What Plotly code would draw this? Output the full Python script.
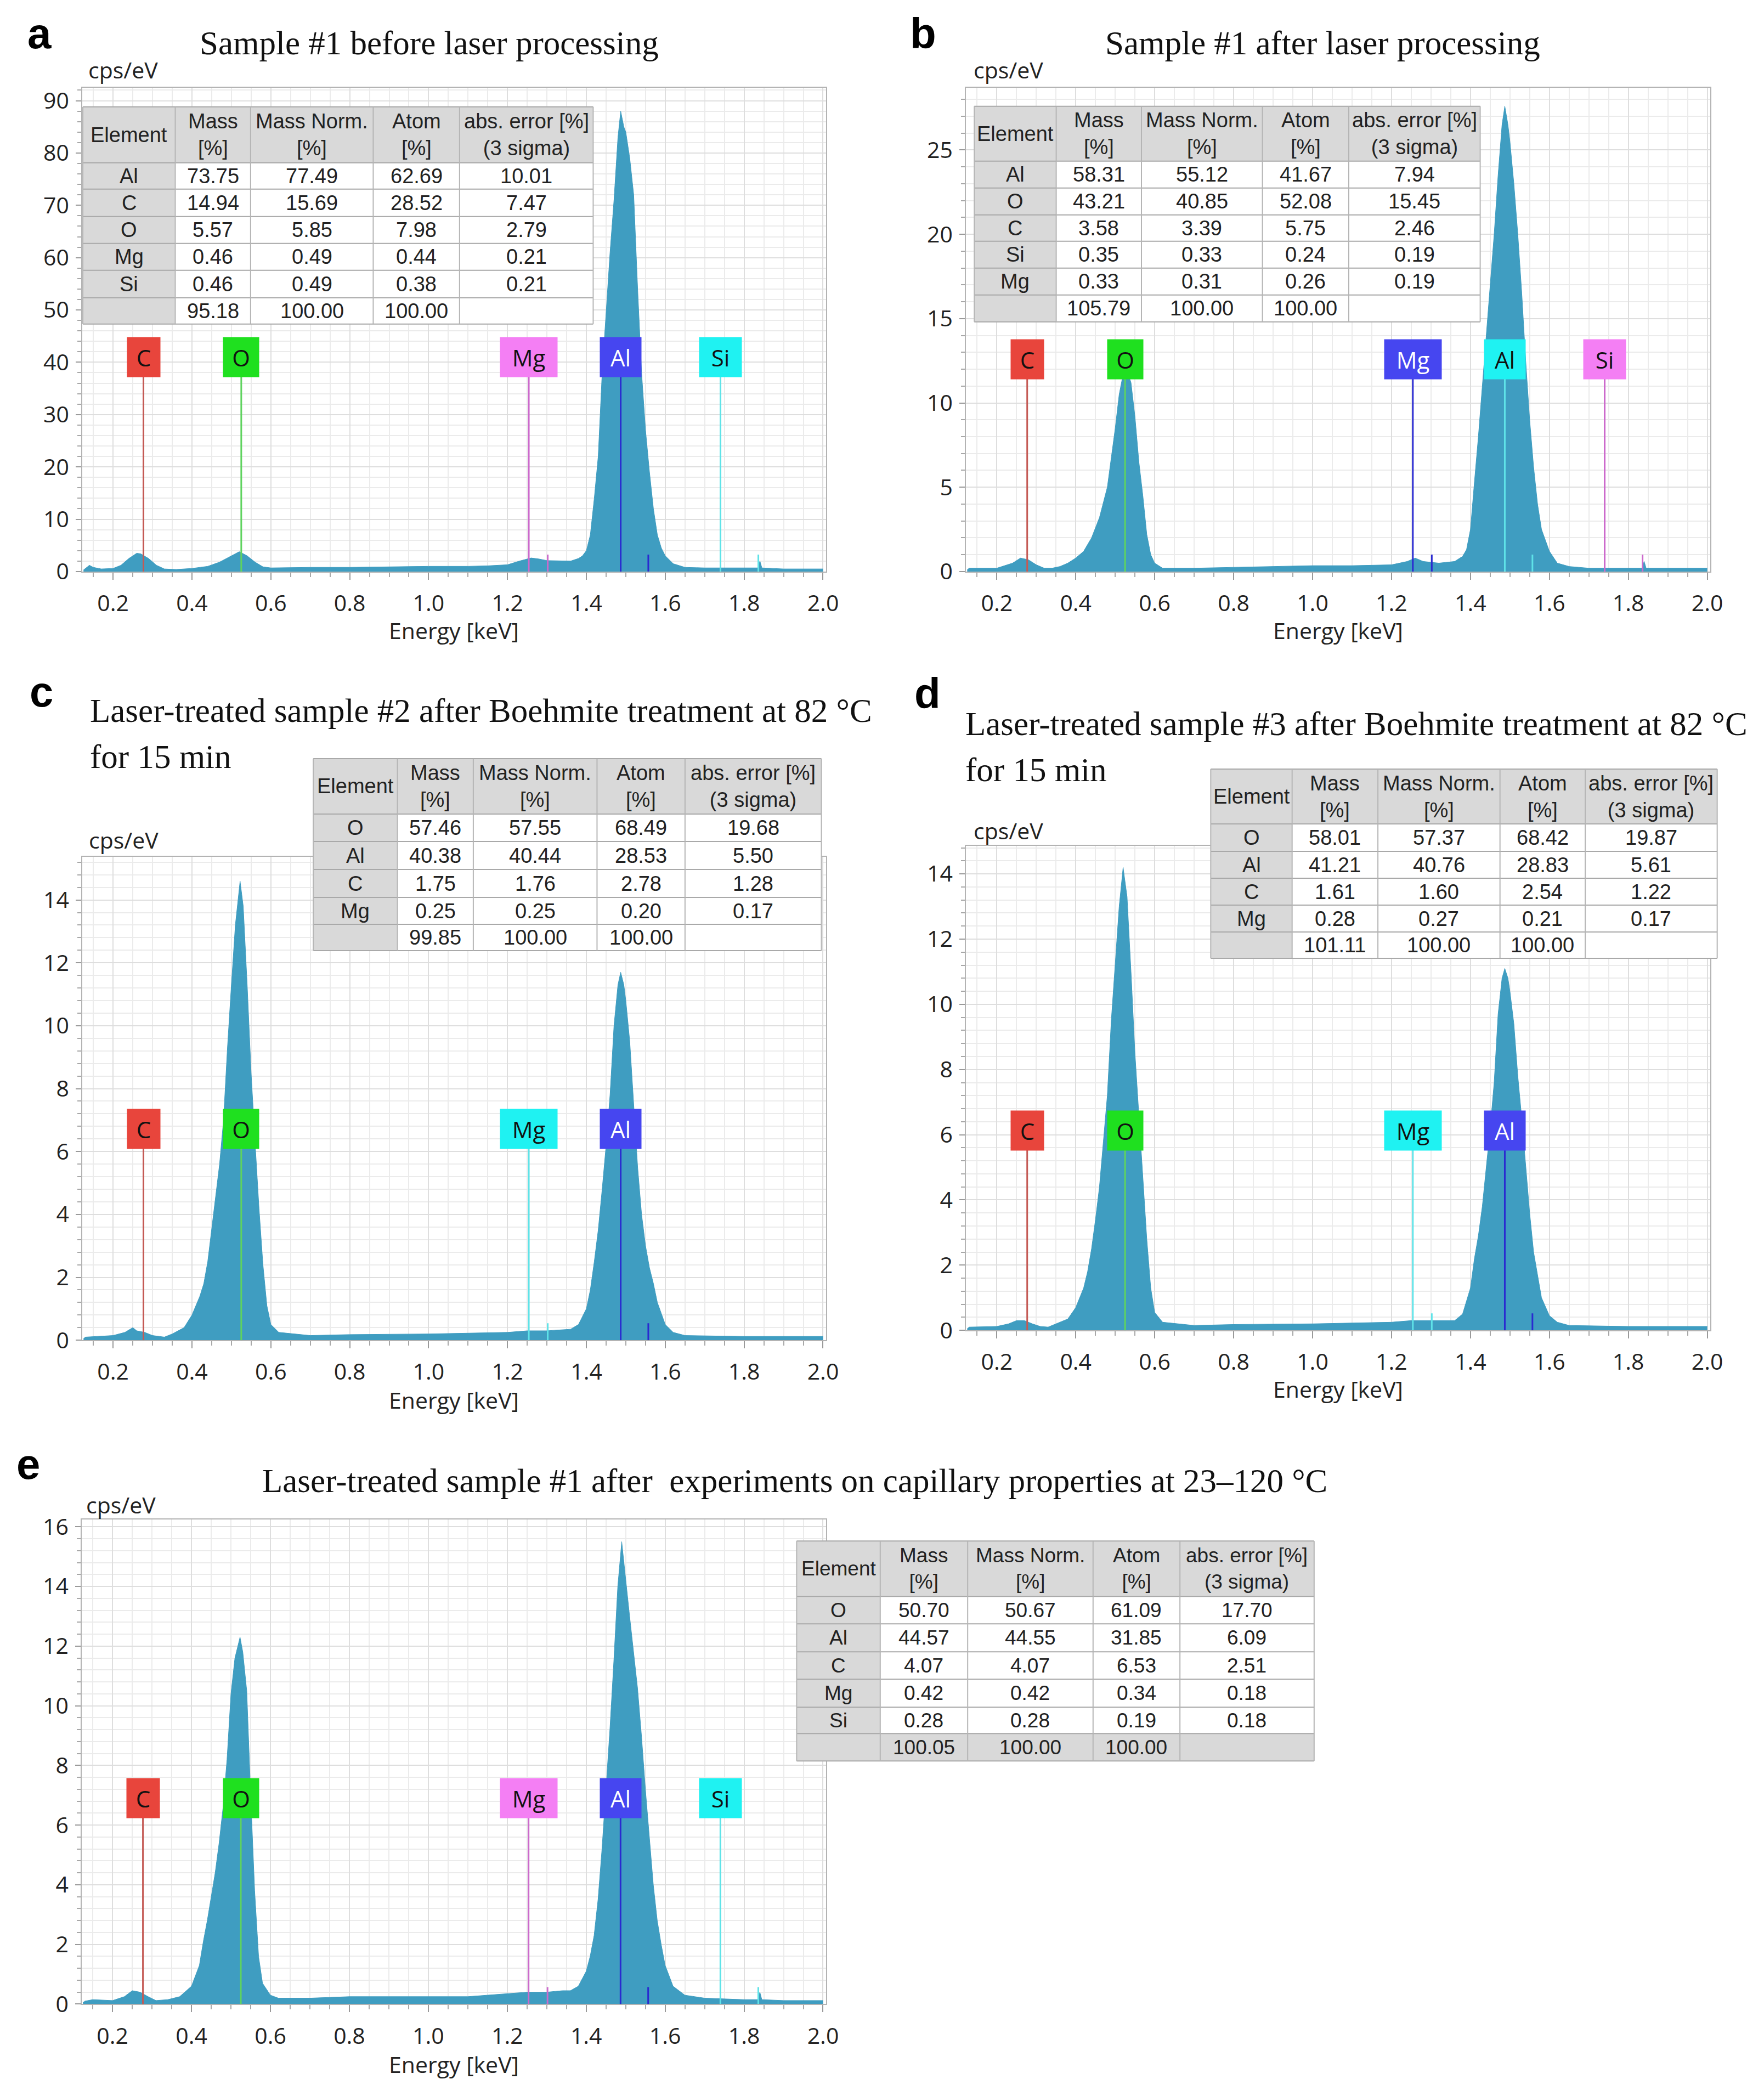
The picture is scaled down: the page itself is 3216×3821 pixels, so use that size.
import plotly.graph_objects as go

W, H = 3216, 3821

# ---------------- spectra (energy keV, counts cps/eV) ----------------
a_keV = [0.125, 0.13, 0.14, 0.15, 0.17, 0.20, 0.22, 0.24, 0.26, 0.27, 0.29, 0.31, 0.33, 0.36, 0.40,
         0.44, 0.47, 0.50, 0.52, 0.54, 0.56, 0.58, 0.60, 0.70, 0.80, 0.90, 1.00, 1.10, 1.15, 1.20,
         1.23, 1.26, 1.28, 1.30, 1.34, 1.36, 1.38, 1.39, 1.40, 1.41, 1.42, 1.43, 1.44, 1.45, 1.46,
         1.47, 1.48, 1.487, 1.495, 1.50, 1.51, 1.52, 1.53, 1.54, 1.55, 1.56, 1.57, 1.58, 1.59, 1.60,
         1.62, 1.65, 1.70, 1.80, 1.835, 1.84, 1.845, 1.90, 2.00]
a_cps = [0.3, 0.6, 1.2, 0.8, 0.5, 0.6, 1.2, 2.5, 3.5, 3.4, 2.5, 1.2, 0.5, 0.4, 0.6,
         1.0, 1.8, 3.0, 3.8, 3.0, 1.8, 0.9, 0.7, 0.8, 0.8, 0.9, 1.0, 1.0, 1.1, 1.3,
         2.0, 2.6, 2.4, 2.1, 2.0, 2.0, 2.5, 3, 4, 7, 14, 22, 38, 50, 61,
         71, 83, 88, 85, 84, 79, 72, 54, 38, 27, 19, 12, 7, 4.5, 3,
         1.5, 0.8, 0.7, 0.7, 0.7, 2.0, 0.7, 0.5, 0.5]

b_keV = [0.125, 0.13, 0.16, 0.20, 0.24, 0.26, 0.28, 0.30, 0.32, 0.34, 0.36, 0.38, 0.40, 0.42, 0.44,
         0.46, 0.48, 0.50, 0.51, 0.525, 0.54, 0.55, 0.56, 0.57, 0.58, 0.59, 0.60, 0.62, 0.70, 0.80,
         0.90, 1.00, 1.10, 1.20, 1.24, 1.26, 1.28, 1.32, 1.36, 1.38, 1.39, 1.40, 1.41, 1.42, 1.43,
         1.44, 1.45, 1.46, 1.47, 1.48, 1.487, 1.495, 1.50, 1.51, 1.52, 1.53, 1.54, 1.55, 1.56, 1.57,
         1.58, 1.60, 1.62, 1.65, 1.70, 1.80, 1.835, 1.84, 1.845, 1.90, 2.00]
b_cps = [0.1, 0.2, 0.2, 0.2, 0.5, 0.8, 0.7, 0.4, 0.2, 0.2, 0.3, 0.5, 0.8, 1.2, 2.0,
         3.2, 5.0, 8.5, 10.5, 12.3, 11.2, 9.2, 6.5, 4.5, 2.2, 1.0, 0.5, 0.2, 0.2, 0.25,
         0.3, 0.35, 0.35, 0.4, 0.6, 0.8, 0.6, 0.5, 0.6, 0.9, 1.3, 2.5, 5.3, 8, 11,
         14, 17, 20, 23.5, 26.5, 27.6, 26.5, 25.5, 23, 20, 16.5, 12.5, 9, 6.2, 4,
         2.5, 1.2, 0.5, 0.3, 0.2, 0.2, 0.2, 0.6, 0.2, 0.2, 0.2]

c_keV = [0.125, 0.13, 0.20, 0.23, 0.25, 0.26, 0.28, 0.30, 0.33, 0.35, 0.38, 0.40, 0.42, 0.43, 0.44,
         0.45, 0.46, 0.47, 0.48, 0.49, 0.50, 0.51, 0.522, 0.53, 0.54, 0.55, 0.56, 0.57, 0.58, 0.59,
         0.60, 0.62, 0.70, 0.80, 1.00, 1.20, 1.25, 1.30, 1.36, 1.38, 1.40, 1.41, 1.42, 1.43, 1.44,
         1.45, 1.46, 1.47, 1.48, 1.487, 1.495, 1.50, 1.51, 1.52, 1.53, 1.54, 1.55, 1.56, 1.57, 1.58,
         1.60, 1.62, 1.65, 1.80, 2.00]
c_cps = [0.05, 0.1, 0.15, 0.25, 0.4, 0.3, 0.25, 0.15, 0.1, 0.2, 0.4, 0.8, 1.4, 1.8, 2.5,
         3.5, 4.5, 5.6, 7.0, 9.3, 11.3, 13.2, 14.6, 13.8, 11.3, 8.5, 6.3, 4.2, 2.4, 1.1,
         0.5, 0.25, 0.15, 0.18, 0.2, 0.25, 0.3, 0.3, 0.35, 0.5, 1.0, 1.6, 2.5, 3.5, 4.8,
         6.2, 7.8, 10.0, 11.3, 11.7, 11.3, 10.8, 9.5, 7.5, 5.5, 4.0, 3.0, 2.3, 1.8, 1.2,
         0.5, 0.25, 0.15, 0.12, 0.12]

d_keV = [0.125, 0.13, 0.20, 0.23, 0.25, 0.27, 0.29, 0.31, 0.33, 0.35, 0.38, 0.40, 0.42, 0.43, 0.44,
         0.45, 0.46, 0.47, 0.48, 0.49, 0.50, 0.51, 0.52, 0.53, 0.54, 0.55, 0.56, 0.57, 0.58, 0.59,
         0.60, 0.62, 0.70, 0.80, 1.00, 1.20, 1.25, 1.30, 1.36, 1.38, 1.40, 1.41, 1.42, 1.43, 1.44,
         1.45, 1.46, 1.47, 1.48, 1.487, 1.495, 1.50, 1.51, 1.52, 1.53, 1.54, 1.55, 1.56, 1.57, 1.58,
         1.60, 1.62, 1.65, 1.80, 2.00]
d_cps = [0.05, 0.1, 0.12, 0.2, 0.3, 0.3, 0.2, 0.12, 0.1, 0.2, 0.35, 0.7, 1.3, 1.8, 2.5,
         3.4, 4.4, 5.8, 7.2, 9.5, 11.3, 13.0, 14.2, 13.3, 11.0, 8.5, 6.6, 4.6, 2.8, 1.3,
         0.55, 0.25, 0.15, 0.18, 0.2, 0.25, 0.3, 0.3, 0.3, 0.5, 1.3, 2.2, 2.9, 3.8, 5.0,
         6.2, 7.6, 9.7, 10.8, 11.1, 10.8, 10.4, 9.4, 7.8, 6.5, 5.0, 3.6, 2.4, 1.7, 1.0,
         0.45, 0.25, 0.15, 0.12, 0.12]

e_keV = [0.125, 0.13, 0.15, 0.20, 0.23, 0.25, 0.27, 0.29, 0.31, 0.34, 0.37, 0.40, 0.42, 0.43, 0.44,
         0.45, 0.46, 0.47, 0.48, 0.49, 0.50, 0.51, 0.523, 0.53, 0.54, 0.55, 0.56, 0.57, 0.58, 0.60,
         0.62, 0.70, 0.80, 0.90, 1.00, 1.10, 1.20, 1.25, 1.30, 1.34, 1.36, 1.38, 1.40, 1.41, 1.42,
         1.43, 1.44, 1.45, 1.46, 1.47, 1.48, 1.49, 1.50, 1.51, 1.52, 1.53, 1.54, 1.55, 1.56, 1.57,
         1.58, 1.59, 1.60, 1.62, 1.65, 1.70, 1.80, 1.835, 1.84, 1.845, 1.90, 2.00]
e_cps = [0.05, 0.1, 0.15, 0.12, 0.25, 0.45, 0.4, 0.25, 0.12, 0.15, 0.25, 0.6, 1.3, 2.1, 2.8,
         3.6, 4.4, 5.4, 6.6, 8.2, 10.4, 11.6, 12.3, 11.8, 10.5, 7.0, 3.8, 1.6, 0.7, 0.3,
         0.2, 0.2, 0.25, 0.25, 0.25, 0.25, 0.35, 0.4, 0.4, 0.45, 0.45, 0.6, 1.1, 1.6, 2.3,
         3.5, 5.2, 7.2, 9.2, 11.5, 14.0, 15.5, 14.2, 13.0, 11.8, 10.6, 9.0, 7.2, 5.6, 4.0,
         2.8, 2.0, 1.3, 0.6, 0.3, 0.2, 0.15, 0.15, 0.4, 0.15, 0.12, 0.12]

# element line energies (keV): K-alpha lines with labels, K-beta short marks
line_keV = {'C': 0.277, 'O': 0.525, 'Mg': 1.254, 'Al': 1.487, 'Si': 1.740}
kb_keV = {'Mg': 1.302, 'Al': 1.557, 'Si': 1.836}

# ---------------- quantification tables ----------------
header = ['Element', 'Mass<br>[%]', 'Mass Norm.<br>[%]', 'Atom<br>[%]', 'abs. error [%]<br>(3 sigma)']

a_elem = ['Al', 'C', 'O', 'Mg', 'Si']
a_mass = ['73.75', '14.94', '5.57', '0.46', '0.46']
a_norm = ['77.49', '15.69', '5.85', '0.49', '0.49']
a_atom = ['62.69', '28.52', '7.98', '0.44', '0.38']
a_err = ['10.01', '7.47', '2.79', '0.21', '0.21']
a_sum = ['', '95.18', '100.00', '100.00', '']

b_elem = ['Al', 'O', 'C', 'Si', 'Mg']
b_mass = ['58.31', '43.21', '3.58', '0.35', '0.33']
b_norm = ['55.12', '40.85', '3.39', '0.33', '0.31']
b_atom = ['41.67', '52.08', '5.75', '0.24', '0.26']
b_err = ['7.94', '15.45', '2.46', '0.19', '0.19']
b_sum = ['', '105.79', '100.00', '100.00', '']

c_elem = ['O', 'Al', 'C', 'Mg']
c_mass = ['57.46', '40.38', '1.75', '0.25']
c_norm = ['57.55', '40.44', '1.76', '0.25']
c_atom = ['68.49', '28.53', '2.78', '0.20']
c_err = ['19.68', '5.50', '1.28', '0.17']
c_sum = ['', '99.85', '100.00', '100.00', '']

d_elem = ['O', 'Al', 'C', 'Mg']
d_mass = ['58.01', '41.21', '1.61', '0.28']
d_norm = ['57.37', '40.76', '1.60', '0.27']
d_atom = ['68.42', '28.83', '2.54', '0.21']
d_err = ['19.87', '5.61', '1.22', '0.17']
d_sum = ['', '101.11', '100.00', '100.00', '']

e_elem = ['O', 'Al', 'C', 'Mg', 'Si']
e_mass = ['50.70', '44.57', '4.07', '0.42', '0.28']
e_norm = ['50.67', '44.55', '4.07', '0.42', '0.28']
e_atom = ['61.09', '31.85', '6.53', '0.34', '0.19']
e_err = ['17.70', '6.09', '2.51', '0.18', '0.18']
e_sum = ['', '100.05', '100.00', '100.00', '']

# ---------------- styling ----------------
FILL = '#3f9dc1'
RED, GREEN, MAG, BLUE, CYAN = '#e8453c', '#1fe01f', '#f47ff4', '#4646f0', '#1ff2f2'
LINE_COL = {RED: '#c45a55', GREEN: '#5fd35f', MAG: '#cc6acc', BLUE: '#2a2ad0', CYAN: '#5fe3e8'}
BOX_W = {'C': 52, 'O': 57, 'Mg': 96, 'Al': 67, 'Si': 69}
GRID = '#dedede'
GRID_MINOR = '#ebebeb'
AXCOL = '#b3b3b3'
SANS = 'Open Sans, Noto Sans, sans-serif'
TICKFONT = dict(family=SANS, size=41, color='#222222')
SERIF = 'Liberation Serif, Times New Roman, serif'
TABLE_FONT = 'Liberation Sans, Arial, sans-serif'

# small correction so that positions measured on the reference land where intended
SX, OX = 0.99, 9.3
SY, OY = 0.9888, 25.3


def fx(px):
    return ((px - OX) / SX) / W


def fy(py):
    return 1 - ((py - OY) / SY) / H


panels = [
    dict(letter='a', keV=a_keV, cps=a_cps, xs=(151, 1503), ys=(161, 1043), ymax=92.5, dtick=10, minor=2,
         marks=[('C', RED), ('O', GREEN), ('Mg', MAG), ('Al', BLUE), ('Si', CYAN)], mark_y=41,
         table=[a_elem, a_mass, a_norm, a_atom, a_err], total=a_sum, total_gray=False, tfont=38,
         cols=[152, 320, 457, 680, 837, 1080], rows=[196, 298, 346, 396, 445, 494, 544, 592],
         letter_pos=(73, 62), title=['Sample #1 before laser processing'], title_pos=(782, 80), title_left=False,
         cps_pos=(160, 128), energy_y=1150),
    dict(letter='b', keV=b_keV, cps=b_cps, xs=(1758, 3111), ys=(161, 1043), ymax=28.7, dtick=5, minor=1,
         marks=[('C', RED), ('O', GREEN), ('Mg', BLUE), ('Al', CYAN), ('Si', MAG)], mark_y=12.6,
         table=[b_elem, b_mass, b_norm, b_atom, b_err], total=b_sum, total_gray=False, tfont=38,
         cols=[1773, 1922, 2077, 2297, 2454, 2693], rows=[195, 295, 344, 393, 441, 490, 539, 588],
         letter_pos=(1680, 62), title=['Sample #1 after laser processing'], title_pos=(2407, 80), title_left=False,
         cps_pos=(1770, 128), energy_y=1150),
    dict(letter='c', keV=c_keV, cps=c_cps, xs=(151, 1503), ys=(1563, 2444), ymax=15.37, dtick=2, minor=0.4,
         marks=[('C', RED), ('O', GREEN), ('Mg', CYAN), ('Al', BLUE)], mark_y=6.72,
         table=[c_elem, c_mass, c_norm, c_atom, c_err], total=c_sum, total_gray=False, tfont=38,
         cols=[571, 724, 862, 1087, 1247, 1495], rows=[1384, 1485, 1535, 1586, 1637, 1686, 1734],
         letter_pos=(77, 1262), title=['Laser-treated sample #2 after Boehmite treatment at 82 °C', 'for 15 min'],
         title_pos=(163, 1297), title_left=True, cps_pos=(161, 1532), energy_y=2553),
    dict(letter='d', keV=d_keV, cps=d_cps, xs=(1758, 3111), ys=(1543, 2426), ymax=14.86, dtick=2, minor=0.4,
         marks=[('C', RED), ('O', GREEN), ('Mg', CYAN), ('Al', BLUE)], mark_y=6.12,
         table=[d_elem, d_mass, d_norm, d_atom, d_err], total=d_sum, total_gray=False, tfont=38,
         cols=[2203, 2351, 2507, 2729, 2884, 3124], rows=[1403, 1503, 1553, 1602, 1651, 1700, 1748],
         letter_pos=(1688, 1265), title=['Laser-treated sample #3 after Boehmite treatment at 82 °C', 'for 15 min'],
         title_pos=(1755, 1321), title_left=True, cps_pos=(1770, 1515), energy_y=2533),
    dict(letter='e', keV=e_keV, cps=e_cps, xs=(150, 1503), ys=(2771, 3654), ymax=16.24, dtick=2, minor=0.4,
         marks=[('C', RED), ('O', GREEN), ('Mg', MAG), ('Al', BLUE), ('Si', CYAN)], mark_y=6.9,
         table=[e_elem, e_mass, e_norm, e_atom, e_err], total=e_sum, total_gray=True, tfont=37,
         cols=[1450, 1602, 1761, 1989, 2147, 2391], rows=[2810, 2911, 2961, 3012, 3062, 3113, 3161, 3211],
         letter_pos=(53, 2670),
         title=['Laser-treated sample #1 after  experiments on capillary properties at 23\u2013120 °C'],
         title_pos=(1447, 2700), title_left=False, cps_pos=(156, 2744), energy_y=3764),
]

fig = go.Figure()
shapes = []
annotations = []
layout_axes = {}

for i, p in enumerate(panels, start=1):
    sfx = '' if i == 1 else str(i)
    xa, ya = 'x' + sfx, 'y' + sfx

    fig.add_trace(go.Scatter(x=p['keV'], y=p['cps'], mode='lines', fill='tozeroy',
                             line=dict(color=FILL, width=1), fillcolor=FILL,
                             xaxis=xa, yaxis=ya, showlegend=False, hoverinfo='skip'))

    layout_axes['xaxis' + sfx] = dict(
        domain=[fx(p['xs'][0]), fx(p['xs'][1])], anchor=ya, range=[0.122, 2.007],
        tick0=0.2, dtick=0.2, tickformat='.1f', ticks='outside', ticklen=13, tickwidth=2,
        tickcolor='#9a9a9a', ticklabelstandoff=8, tickfont=TICKFONT,
        showgrid=True, gridcolor=GRID, gridwidth=2, zeroline=False,
        showline=True, linecolor=AXCOL, linewidth=2, mirror=True,
        minor=dict(dtick=0.05, tick0=0, showgrid=True, gridcolor=GRID_MINOR, gridwidth=2,
                   ticks='outside', ticklen=8, tickcolor='#a8a8a8', tickwidth=2))
    layout_axes['yaxis' + sfx] = dict(
        domain=[fy(p['ys'][1]), fy(p['ys'][0])], anchor=xa, range=[0, p['ymax']],
        tick0=0, dtick=p['dtick'], ticks='outside', ticklen=10, tickwidth=2, tickcolor='#9a9a9a',
        ticklabelstandoff=4, tickfont=TICKFONT,
        showgrid=True, gridcolor=GRID, gridwidth=2, zeroline=False,
        showline=True, linecolor=AXCOL, linewidth=2, mirror=True,
        minor=dict(dtick=p['minor'], tick0=0, showgrid=True, gridcolor=GRID_MINOR, gridwidth=2,
                   ticks='outside', ticklen=7, tickcolor='#a8a8a8', tickwidth=2))

    # element marker lines + labels
    for el, col in p['marks']:
        e0 = line_keV[el]
        shapes.append(dict(type='line', xref=xa, yref=ya, x0=e0, x1=e0, y0=0, y1=p['mark_y'],
                           line=dict(color=LINE_COL[col], width=3), layer='above'))
        if el in kb_keV:
            shapes.append(dict(type='line', xref=xa, yref=ya, x0=kb_keV[el], x1=kb_keV[el], y0=0,
                               y1=p['ymax'] * 0.035, line=dict(color=LINE_COL[col], width=3), layer='above'))
        annotations.append(dict(xref=xa, yref=ya, x=e0, y=p['mark_y'], text=el, showarrow=False,
                                bgcolor=col, width=BOX_W[el], height=64, borderpad=4,
                                font=dict(family=SANS, size=42,
                                          color='white' if col == BLUE else '#111111')))

    # table
    cols, rows = p['cols'], p['rows']
    x0t, x1t = cols[0], cols[-1]
    y0t, y1t = rows[0], rows[-1]
    shapes.append(dict(type='rect', xref='paper', yref='paper', x0=fx(x0t), x1=fx(x1t), y0=fy(y1t), y1=fy(y0t),
                       fillcolor='white', line=dict(width=0), layer='above'))
    shapes.append(dict(type='rect', xref='paper', yref='paper', x0=fx(x0t), x1=fx(x1t), y0=fy(rows[1]), y1=fy(y0t),
                       fillcolor='#d9d9d9', line=dict(width=0), layer='above'))
    shapes.append(dict(type='rect', xref='paper', yref='paper', x0=fx(x0t), x1=fx(cols[1]), y0=fy(y1t), y1=fy(y0t),
                       fillcolor='#d9d9d9', line=dict(width=0), layer='above'))
    if p['total_gray']:
        shapes.append(dict(type='rect', xref='paper', yref='paper', x0=fx(x0t), x1=fx(x1t), y0=fy(y1t),
                           y1=fy(rows[-2]), fillcolor='#d9d9d9', line=dict(width=0), layer='above'))
    for yy in rows:
        shapes.append(dict(type='line', xref='paper', yref='paper', x0=fx(x0t), x1=fx(x1t), y0=fy(yy), y1=fy(yy),
                           line=dict(color='#a9a9a9', width=2), layer='above'))
    for xx in cols:
        shapes.append(dict(type='line', xref='paper', yref='paper', x0=fx(xx), x1=fx(xx), y0=fy(y0t), y1=fy(y1t),
                           line=dict(color='#b5b5b5', width=2), layer='above'))
    tf = dict(family=TABLE_FONT, size=p['tfont'], color='#222222')
    for j, htxt in enumerate(header):
        annotations.append(dict(xref='paper', yref='paper', x=fx((cols[j] + cols[j + 1]) / 2),
                                y=fy((rows[0] + rows[1]) / 2), text=htxt, showarrow=False, font=tf,
                                xanchor='center', yanchor='middle'))
    body = p['table']
    for r in range(len(body[0])):
        for j in range(5):
            annotations.append(dict(xref='paper', yref='paper', x=fx((cols[j] + cols[j + 1]) / 2),
                                    y=fy((rows[r + 1] + rows[r + 2]) / 2), text=body[j][r], showarrow=False,
                                    font=tf, xanchor='center', yanchor='middle'))
    for j in range(5):
        if p['total'][j]:
            annotations.append(dict(xref='paper', yref='paper', x=fx((cols[j] + cols[j + 1]) / 2),
                                    y=fy((rows[-2] + rows[-1]) / 2), text=p['total'][j], showarrow=False,
                                    font=tf, xanchor='center', yanchor='middle'))

    # panel letter, title, axis captions
    annotations.append(dict(xref='paper', yref='paper', x=fx(p['letter_pos'][0]), y=fy(p['letter_pos'][1]),
                            text='<b>%s</b>' % p['letter'], showarrow=False, xanchor='center', yanchor='middle',
                            font=dict(family='Liberation Sans, Arial, sans-serif', size=78, color='black')))
    for k, line in enumerate(p['title']):
        annotations.append(dict(xref='paper', yref='paper', x=fx(p['title_pos'][0]),
                                y=fy(p['title_pos'][1] + k * 84), text=line, showarrow=False,
                                xanchor='left' if p['title_left'] else 'center', yanchor='middle',
                                font=dict(family=SERIF, size=61, color='#111111')))
    annotations.append(dict(xref='paper', yref='paper', x=fx(p['cps_pos'][0]), y=fy(p['cps_pos'][1]),
                            text='cps/eV', showarrow=False, xanchor='left', yanchor='middle',
                            font=dict(family=SANS, size=41, color='#222222')))
    annotations.append(dict(xref='paper', yref='paper', x=fx((p['xs'][0] + p['xs'][1]) / 2), y=fy(p['energy_y']),
                            text='Energy [keV]', showarrow=False, xanchor='center', yanchor='middle',
                            font=dict(family=SANS, size=41, color='#222222')))

fig.update_layout(width=W, height=H, margin=dict(l=0, r=0, t=0, b=0),
                  paper_bgcolor='white', plot_bgcolor='white',
                  shapes=shapes, annotations=annotations, **layout_axes)

fig.write_html("out.html")
